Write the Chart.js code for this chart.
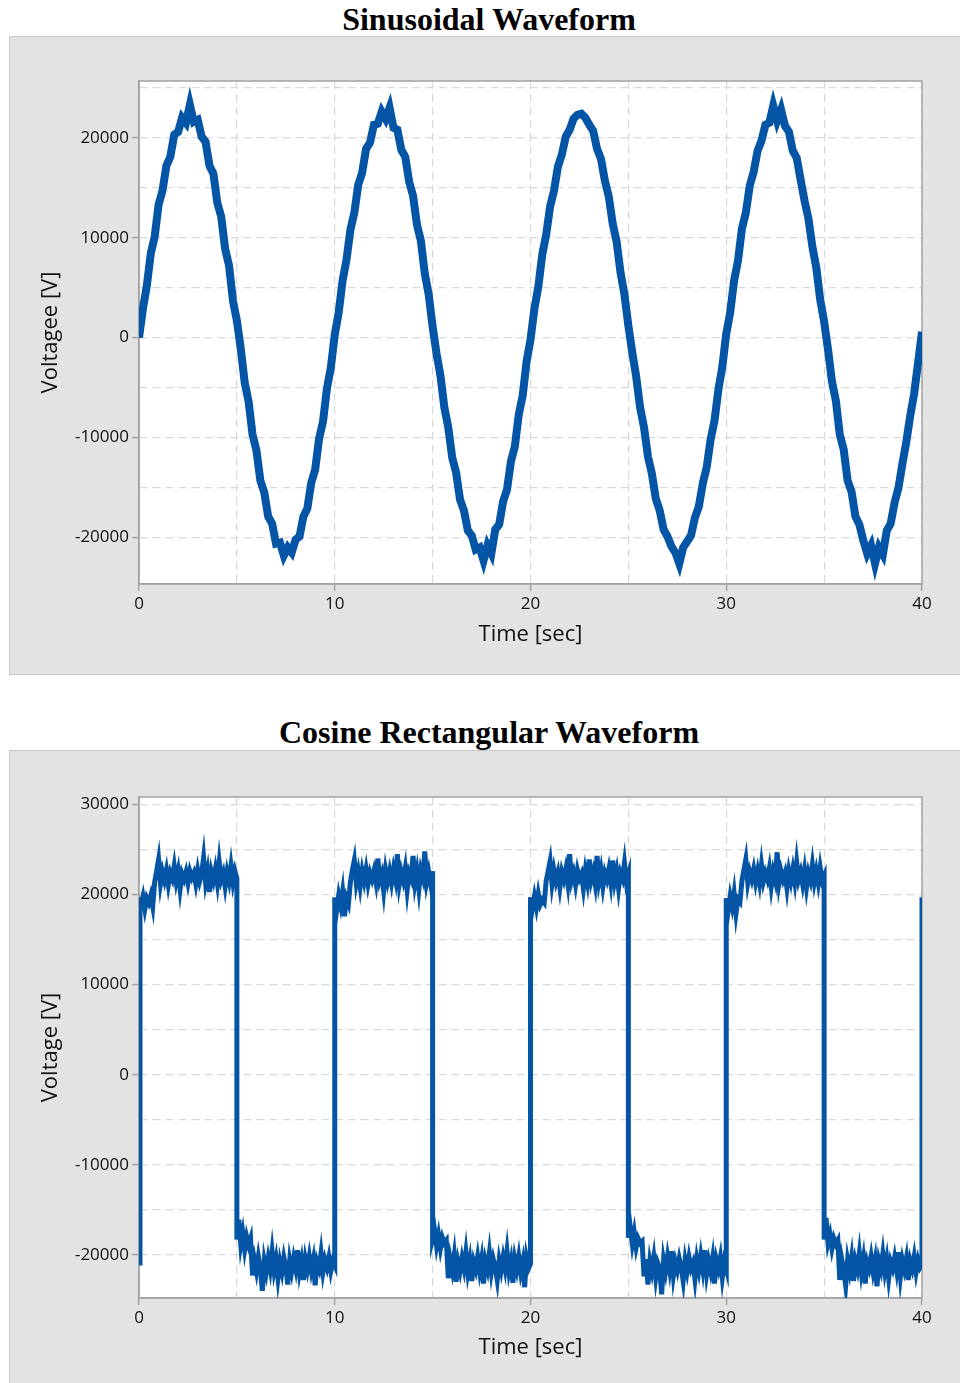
<!DOCTYPE html>
<html>
<head>
<meta charset="utf-8">
<script src="https://cdn.jsdelivr.net/npm/chart.js@4.4.0/dist/chart.umd.min.js"></script>
<style>
  body { margin: 0; background: #fff; width: 960px; height: 1383px; position: relative; overflow: hidden; }
  .title { position: absolute; left: 0; width: 978px; text-align: center; font: bold 32px/32px "Liberation Serif", "Times New Roman", serif; color: #000; }
  .panel { position: absolute; left: 9px; width: 960px; background: #e3e3e3; border: 1px solid #c8c8c8; box-sizing: border-box; }
  canvas { position: absolute; left: 0; }
</style>
</head>
<body>
<div class="title" style="top:3px">Sinusoidal Waveform</div>
<div class="panel" style="top:36px;height:639px"></div>
<canvas id="sineChart" width="960" height="640" style="top:36px"></canvas>

<div class="title" style="top:716px">Cosine Rectangular Waveform</div>
<div class="panel" style="top:750px;height:700px"></div>
<canvas id="squareChart" width="960" height="633" style="top:750px"></canvas>

<script>
// sinusoidal record, sampled every 0.2 s
let sineTime = [
  0, 0.2, 0.4, 0.6, 0.8, 1, 1.2, 1.4, 1.6, 1.8,
  2, 2.2, 2.4, 2.6, 2.8, 3, 3.2, 3.4, 3.6, 3.8,
  4, 4.2, 4.4, 4.6, 4.8, 5, 5.2, 5.4, 5.6, 5.8,
  6, 6.2, 6.4, 6.6, 6.8, 7, 7.2, 7.4, 7.6, 7.8,
  8, 8.2, 8.4, 8.6, 8.8, 9, 9.2, 9.4, 9.6, 9.8,
  10, 10.2, 10.4, 10.6, 10.8, 11, 11.2, 11.4, 11.6, 11.8,
  12, 12.2, 12.4, 12.6, 12.8, 13, 13.2, 13.4, 13.6, 13.8,
  14, 14.2, 14.4, 14.6, 14.8, 15, 15.2, 15.4, 15.6, 15.8,
  16, 16.2, 16.4, 16.6, 16.8, 17, 17.2, 17.4, 17.6, 17.8,
  18, 18.2, 18.4, 18.6, 18.8, 19, 19.2, 19.4, 19.6, 19.8,
  20, 20.2, 20.4, 20.6, 20.8, 21, 21.2, 21.4, 21.6, 21.8,
  22, 22.2, 22.4, 22.6, 22.8, 23, 23.2, 23.4, 23.6, 23.8,
  24, 24.2, 24.4, 24.6, 24.8, 25, 25.2, 25.4, 25.6, 25.8,
  26, 26.2, 26.4, 26.6, 26.8, 27, 27.2, 27.4, 27.6, 27.8,
  28, 28.2, 28.4, 28.6, 28.8, 29, 29.2, 29.4, 29.6, 29.8,
  30, 30.2, 30.4, 30.6, 30.8, 31, 31.2, 31.4, 31.6, 31.8,
  32, 32.2, 32.4, 32.6, 32.8, 33, 33.2, 33.4, 33.6, 33.8,
  34, 34.2, 34.4, 34.6, 34.8, 35, 35.2, 35.4, 35.6, 35.8,
  36, 36.2, 36.4, 36.6, 36.8, 37, 37.2, 37.4, 37.6, 37.8,
  38, 38.2, 38.4, 38.6, 38.8, 39, 39.2, 39.4, 39.6, 39.8,
  40
];

let sineVolt = [
  0, 2900, 5200, 8400, 10100, 13300, 14700, 17200, 18100, 20300,
  20600, 22000, 21500, 23300, 21600, 21800, 20100, 19600, 17200, 16400,
  13500, 12100, 8900, 7200, 3700, 1700, -1100, -4500, -6400, -9700,
  -11300, -14300, -15500, -17900, -18600, -20600, -20500, -21800, -21000, -21500,
  -20200, -19900, -17900, -17100, -14500, -13200, -10100, -8400, -5100, -3000,
  300, 2500, 5700, 7800, 10800, 12500, 15300, 16500, 18900, 19500,
  21300, 21400, 22600, 21900, 23000, 21000, 20800, 18800, 18100, 15600,
  14200, 11300, 9700, 6400, 4300, 1100, -1600, -3800, -7000, -9000,
  -12000, -13500, -16200, -17300, -19300, -19800, -21200, -21000, -22300, -20800,
  -21600, -19200, -18700, -16400, -15200, -12400, -10900, -7700, -5800, -2400,
  -200, 2900, 5100, 8300, 10300, 13100, 14700, 17100, 18300, 20100,
  20800, 21900, 22300, 22400, 22000, 21300, 20700, 18900, 17900, 15700,
  14100, 11400, 9600, 6500, 4300, 1200, -1500, -3900, -7000, -9000,
  -11900, -13600, -16100, -17300, -19200, -19900, -20900, -21500, -22600, -21000,
  -20400, -19800, -18000, -16900, -14600, -13000, -10200, -8300, -5200, -2900,
  400, 2500, 5700, 7700, 10900, 12500, 15200, 16600, 18700, 19700,
  21300, 21500, 23200, 21700, 22800, 21200, 20600, 18700, 18000, 15800,
  13700, 11900, 9100, 7000, 3800, 1600, -1200, -4400, -6300, -9700,
  -11200, -14300, -15400, -17900, -18700, -20300, -21600, -20800, -22600, -21000,
  -21700, -19300, -18600, -16500, -15000, -12600, -10400, -7800, -5600, -2500,
  600
];

// rectangular record, sampled every 0.1 s; a repeated time is a switching edge
let squareTime = [
  0.05, 0.05,
  0.1, 0.2, 0.3, 0.4, 0.5, 0.6, 0.7, 0.8, 0.9, 1,
  1.1, 1.2, 1.3, 1.4, 1.5, 1.6, 1.7, 1.8, 1.9, 2,
  2.1, 2.2, 2.3, 2.4, 2.5, 2.6, 2.7, 2.8, 2.9, 3,
  3.1, 3.2, 3.3, 3.4, 3.5, 3.6, 3.7, 3.8, 3.9, 4,
  4.1, 4.2, 4.3, 4.4, 4.5, 4.6, 4.7, 4.8, 4.9, 5,
  5,
  5.1, 5.2, 5.3, 5.4, 5.5, 5.6, 5.7, 5.8, 5.9, 6,
  6.1, 6.2, 6.3, 6.4, 6.5, 6.6, 6.7, 6.8, 6.9, 7,
  7.1, 7.2, 7.3, 7.4, 7.5, 7.6, 7.7, 7.8, 7.9, 8,
  8.1, 8.2, 8.3, 8.4, 8.5, 8.6, 8.7, 8.8, 8.9, 9,
  9.1, 9.2, 9.3, 9.4, 9.5, 9.6, 9.7, 9.8, 9.9, 10,
  10,
  10.1, 10.2, 10.3, 10.4, 10.5, 10.6, 10.7, 10.8, 10.9, 11,
  11.1, 11.2, 11.3, 11.4, 11.5, 11.6, 11.7, 11.8, 11.9, 12,
  12.1, 12.2, 12.3, 12.4, 12.5, 12.6, 12.7, 12.8, 12.9, 13,
  13.1, 13.2, 13.3, 13.4, 13.5, 13.6, 13.7, 13.8, 13.9, 14,
  14.1, 14.2, 14.3, 14.4, 14.5, 14.6, 14.7, 14.8, 14.9, 15,
  15,
  15.1, 15.2, 15.3, 15.4, 15.5, 15.6, 15.7, 15.8, 15.9, 16,
  16.1, 16.2, 16.3, 16.4, 16.5, 16.6, 16.7, 16.8, 16.9, 17,
  17.1, 17.2, 17.3, 17.4, 17.5, 17.6, 17.7, 17.8, 17.9, 18,
  18.1, 18.2, 18.3, 18.4, 18.5, 18.6, 18.7, 18.8, 18.9, 19,
  19.1, 19.2, 19.3, 19.4, 19.5, 19.6, 19.7, 19.8, 19.9, 20,
  20,
  20.1, 20.2, 20.3, 20.4, 20.5, 20.6, 20.7, 20.8, 20.9, 21,
  21.1, 21.2, 21.3, 21.4, 21.5, 21.6, 21.7, 21.8, 21.9, 22,
  22.1, 22.2, 22.3, 22.4, 22.5, 22.6, 22.7, 22.8, 22.9, 23,
  23.1, 23.2, 23.3, 23.4, 23.5, 23.6, 23.7, 23.8, 23.9, 24,
  24.1, 24.2, 24.3, 24.4, 24.5, 24.6, 24.7, 24.8, 24.9, 25,
  25,
  25.1, 25.2, 25.3, 25.4, 25.5, 25.6, 25.7, 25.8, 25.9, 26,
  26.1, 26.2, 26.3, 26.4, 26.5, 26.6, 26.7, 26.8, 26.9, 27,
  27.1, 27.2, 27.3, 27.4, 27.5, 27.6, 27.7, 27.8, 27.9, 28,
  28.1, 28.2, 28.3, 28.4, 28.5, 28.6, 28.7, 28.8, 28.9, 29,
  29.1, 29.2, 29.3, 29.4, 29.5, 29.6, 29.7, 29.8, 29.9, 30,
  30,
  30.1, 30.2, 30.3, 30.4, 30.5, 30.6, 30.7, 30.8, 30.9, 31,
  31.1, 31.2, 31.3, 31.4, 31.5, 31.6, 31.7, 31.8, 31.9, 32,
  32.1, 32.2, 32.3, 32.4, 32.5, 32.6, 32.7, 32.8, 32.9, 33,
  33.1, 33.2, 33.3, 33.4, 33.5, 33.6, 33.7, 33.8, 33.9, 34,
  34.1, 34.2, 34.3, 34.4, 34.5, 34.6, 34.7, 34.8, 34.9, 35,
  35,
  35.1, 35.2, 35.3, 35.4, 35.5, 35.6, 35.7, 35.8, 35.9, 36,
  36.1, 36.2, 36.3, 36.4, 36.5, 36.6, 36.7, 36.8, 36.9, 37,
  37.1, 37.2, 37.3, 37.4, 37.5, 37.6, 37.7, 37.8, 37.9, 38,
  38.1, 38.2, 38.3, 38.4, 38.5, 38.6, 38.7, 38.8, 38.9, 39,
  39.1, 39.2, 39.3, 39.4, 39.5, 39.6, 39.7, 39.8, 39.9, 40,
  40
];

let squareVolt = [
  -21200, 19700,
  18900, 19800, 18400, 19600, 19100, 19900, 18700, 21400, 22600, 23900,
  21200, 22500, 21600, 22700, 21100, 22400, 21800, 23200, 21500, 22600,
  20600, 22300, 21700, 22500, 21300, 22600, 21900, 22400, 21200, 22700,
  21500, 22300, 24100, 21400, 22600, 20300, 22500, 21600, 22800, 21300,
  23600, 21700, 22400, 20900, 22500, 21500, 23200, 21400, 22600, 21800,
  -18300,
  -16100, -18900, -17600, -19400, -18000, -18900, -18200, -22300, -20600, -21800,
  -20200, -21500, -24000, -20700, -21900, -20400, -21600, -19600, -21700, -20500,
  -22600, -20800, -21900, -20300, -21400, -23300, -20600, -21800, -20400, -21500,
  -19500, -21900, -20700, -22800, -20500, -21600, -20200, -21700, -20600, -23400,
  -20800, -21500, -19800, -21900, -20600, -21400, -20300, -21800, -20700, -21200,
  19700,
  18300, 19900, 18800, 20300, 17600, 19600, 19000, 21400, 22700, 23800,
  21300, 22500, 20900, 22600, 21500, 22800, 21200, 22400, 21700, 22600,
  21400, 24000, 21600, 22300, 20400, 22700, 21500, 22600, 21300, 22800,
  21700, 24500, 21200, 22500, 21600, 22900, 20500, 22400, 21800, 24300,
  21300, 22600, 20600, 22700, 21900, 24800, 21400, 22500, 21200, 22600,
  -18200,
  -17300, -19000, -17800, -19300, -18100, -18700, -18400, -22600, -20500, -21700,
  -20100, -23000, -20800, -21800, -20400, -21500, -19700, -21900, -20600, -22900,
  -20800, -21600, -20200, -21800, -20500, -23200, -20700, -21600, -19800, -21900,
  -20500, -21400, -22800, -20600, -21700, -20300, -21500, -19600, -21800, -20700,
  -23100, -20500, -21600, -20200, -21900, -20800, -23600, -20400, -21500, -21000,
  19700,
  18500, 19800, 18600, 20100, 18900, 19400, 19100, 21500, 22600, 23700,
  21200, 22700, 21500, 22400, 20800, 22500, 21700, 22800, 21300, 24500,
  21600, 22400, 21100, 22700, 21800, 22300, 20700, 22600, 21400, 23900,
  21600, 22500, 21200, 24300, 21500, 22700, 20900, 22400, 21700, 22800,
  21300, 23800, 21500, 22600, 20700, 22400, 21800, 23500, 21400, 22200,
  -18100,
  -17000, -18800, -17500, -19200, -18200, -18700, -18500, -22400, -20500, -23300,
  -20700, -21800, -20300, -22500, -20900, -21500, -24400, -20600, -21800, -20200,
  -21600, -19600, -22300, -20800, -21700, -20400, -21400, -22900, -20600, -21800,
  -20300, -21500, -20900, -22700, -20500, -21700, -20100, -21600, -19500, -22100,
  -20700, -21800, -20400, -23200, -20600, -21500, -20300, -22500, -20800, -21600,
  19600,
  18200, 19800, 18700, 20200, 17900, 19500, 19200, 21500, 22700, 23900,
  21300, 22500, 21700, 22800, 21400, 22600, 21300, 23300, 21500, 22400,
  21700, 22900, 20900, 22500, 21600, 24700, 21300, 22600, 21700, 22400,
  20700, 22600, 21500, 22800, 21400, 23600, 21700, 22500, 21200, 22700,
  20800, 22400, 21600, 23300, 21400, 22600, 21300, 23000, 21600, 22100,
  -18300,
  -15900, -18700, -17800, -19300, -18200, -18800, -18400, -22800, -20500, -21700,
  -23400, -20600, -21800, -20300, -22900, -20700, -21600, -19800, -21900, -20500,
  -23200, -20800, -21500, -20200, -21800, -20600, -23500, -20700, -21600, -19900,
  -21800, -20500, -22600, -20800, -21500, -20300, -21700, -19700, -22400, -20600,
  -21600, -20400, -22800, -20700, -21500, -20200, -21900, -20600, -21400, -21000,
  19700
];

let xTicks = [0, 10, 20, 30, 40];
let yTicks = [-20000, -10000, 0, 10000, 20000, 30000];
let sineGrid = [-20000, -15000, -10000, -5000, 0, 5000, 10000, 15000, 20000, 25000];
let squareGrid = [-20000, -15000, -10000, -5000, 0, 5000, 10000, 15000, 20000, 25000, 30000];

let lineBlue = '#0455a6';
let axisGray = '#a3a3a3';
let tickFont = { family: "'Open Sans', 'Noto Sans', sans-serif", size: 17 };
let titleFont = { family: "'Open Sans', 'Noto Sans', sans-serif", size: 22 };

// white plot area with a grey frame round it
let plotFrame = {
  id: 'plotFrame',
  beforeDraw(chart) {
    let a = chart.chartArea;
    chart.ctx.save();
    chart.ctx.fillStyle = '#fff';
    chart.ctx.fillRect(a.left, a.top, a.right - a.left, a.bottom - a.top);
    chart.ctx.restore();
  },
  beforeDatasetsDraw(chart) {
    let a = chart.chartArea;
    chart.ctx.save();
    chart.ctx.strokeStyle = axisGray;
    chart.ctx.lineWidth = 1.5;
    chart.ctx.strokeRect(a.left, a.top, a.right - a.left, a.bottom - a.top);
    chart.ctx.restore();
  }
};

// tick marks only where a label is printed
function labelled(list) {
  return function (ctx) {
    return ctx.tick && list.includes(ctx.tick.value) ? axisGray : 'rgba(0,0,0,0)';
  };
}

function waveOptions(yMin, yMax, grid, yTitle, topPad, xHeight, xTitlePad) {
  return {
    responsive: false,
    animation: false,
    layout: { padding: { left: 0, right: 38, top: topPad, bottom: 0 } },
    plugins: { legend: { display: false }, tooltip: { enabled: false } },
    scales: {
      x: {
        type: 'linear',
        min: 0,
        max: 40,
        afterFit(scale) { scale.height = xHeight; },
        ticks: {
          stepSize: 5,
          autoSkip: false,
          maxRotation: 0,
          padding: 3,
          color: '#111',
          font: tickFont,
          callback: (v) => xTicks.includes(v) ? v : ''
        },
        grid: { color: '#d9d9d9', lineWidth: 1.2, tickLength: 7, tickWidth: 1.5, tickColor: labelled(xTicks) },
        border: { color: axisGray, width: 1.5, dash: [8, 5] },
        title: { display: true, text: 'Time [sec]', color: '#111', font: titleFont, padding: { top: 0, bottom: xTitlePad } }
      },
      y: {
        min: yMin,
        max: yMax,
        afterFit(scale) { scale.width = 139; },
        afterBuildTicks(scale) { scale.ticks = grid.map((v) => ({ value: v })); },
        ticks: {
          autoSkip: false,
          padding: 3,
          color: '#111',
          font: tickFont,
          callback: (v) => yTicks.includes(v) ? v : ''
        },
        grid: { color: '#d9d9d9', lineWidth: 1.2, tickLength: 7, tickWidth: 1.5, tickColor: labelled(yTicks) },
        border: { color: axisGray, width: 1.5, dash: [8, 5] },
        title: { display: true, text: yTitle, color: '#111', font: titleFont, padding: { top: 38, bottom: 0 } }
      }
    }
  };
}

let sineChart = new Chart(document.getElementById('sineChart'), {
  type: 'line',
  data: {
    labels: sineTime,
    datasets: [{
      data: sineVolt,
      borderColor: lineBlue,
      borderWidth: 8,
      pointRadius: 0,
      tension: 0
    }]
  },
  options: waveOptions(-24650, 25680, sineGrid, 'Voltagee [V]', 45, 92, 28),
  plugins: [plotFrame]
});

let squareChart = new Chart(document.getElementById('squareChart'), {
  type: 'line',
  data: {
    labels: squareTime,
    datasets: [{
      data: squareVolt,
      borderColor: lineBlue,
      borderWidth: 5,
      pointRadius: 0,
      tension: 0
    }]
  },
  options: waveOptions(-24800, 30840, squareGrid, 'Voltage [V]', 47, 85, 22),
  plugins: [plotFrame]
});
</script>
</body>
</html>
